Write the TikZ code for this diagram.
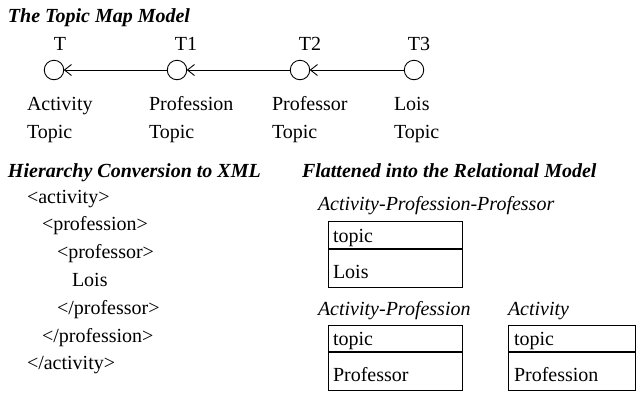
\documentclass[tikz,border=0pt]{standalone}
\usepackage{fontspec}
\setmainfont{Liberation Serif}
\usetikzlibrary{arrows.meta}
\begin{document}
\begin{tikzpicture}[x=1pt,y=-1pt,
  every node/.style={inner sep=0pt, outer sep=0pt, font=\fontsize{20}{24}\selectfont},
  txt/.style={anchor=base west},
  lbl/.style={anchor=base},
  heading/.style={anchor=base west, font=\fontsize{20}{24}\selectfont\bfseries\itshape},
  relname/.style={anchor=base west, font=\fontsize{20}{24}\selectfont\itshape},
  topicnode/.style={circle, draw, line width=0.9pt, minimum size=19.5pt},
  link/.style={-{Straight Barb[length=7pt,width=11pt,line width=0.9pt]}, line width=0.9pt},
  relbox/.style={draw, line width=1pt},
  divider/.style={line width=2pt}
]
\useasboundingbox (0,0) rectangle (636,392);

% ---- topic map ----
\node[heading] (h1) at (8,22) {The Topic Map Model};

\node[topicnode] (t0) at (54,70) {};
\node[topicnode] (t1) at (177,70) {};
\node[topicnode] (t2) at (300,70) {};
\node[topicnode] (t3) at (414,70) {};

\node[lbl] (n0) at (60,50) {T};
\node[lbl] (n1) at (186,50) {T1};
\node[lbl] (n2) at (310,50) {T2};
\node[lbl] (n3) at (419,50) {T3};

\draw[link] (t3) -- (t2);
\draw[link] (t2) -- (t1);
\draw[link] (t1) -- (t0);

\node[txt] (a0) at (27,110) {Activity};
\node[txt] (b0) at (27,138) {Topic};
\node[txt] (a1) at (149,110) {Profession};
\node[txt] (b1) at (149,138) {Topic};
\node[txt] (a2) at (272,110) {Professor};
\node[txt] (b2) at (272,138) {Topic};
\node[txt] (a3) at (394,110) {Lois};
\node[txt] (b3) at (394,138) {Topic};

% ---- XML hierarchy ----
\node[heading] (h2) at (8,177) {Hierarchy Conversion to XML};
\node[txt] (x1) at (27,203) {<activity>};
\node[txt] (x2) at (42,230.8) {<profession>};
\node[txt] (x3) at (57,258.6) {<professor>};
\node[txt] (x4) at (72,286.4) {Lois};
\node[txt] (x5) at (57,314.2) {</professor>};
\node[txt] (x6) at (42,342) {</profession>};
\node[txt] (x7) at (27,369.8) {</activity>};

% ---- relational tables ----
\node[heading] (h3) at (302,177) {Flattened into the Relational Model};

\node[relname] (r1) at (318,210) {Activity-Profession-Professor};
\draw[relbox] (328,221) rectangle (462,287);
\draw[divider] (328,249) -- (462,249);
\node[txt] (r1a) at (333,242) {topic};
\node[txt] (r1b) at (333,278) {Lois};

\node[relname] (r2) at (318,315) {Activity-Profession};
\draw[relbox] (328,325) rectangle (462,390);
\draw[divider] (328,352) -- (462,352);
\node[txt] (r2a) at (333,345) {topic};
\node[txt] (r2b) at (333,381) {Professor};

\node[relname] (r3) at (508,315) {Activity};
\draw[relbox] (508,325) rectangle (635,390);
\draw[divider] (508,352) -- (635,352);
\node[txt] (r3a) at (514,345) {topic};
\node[txt] (r3b) at (514,381) {Profession};
\end{tikzpicture}
\end{document}
